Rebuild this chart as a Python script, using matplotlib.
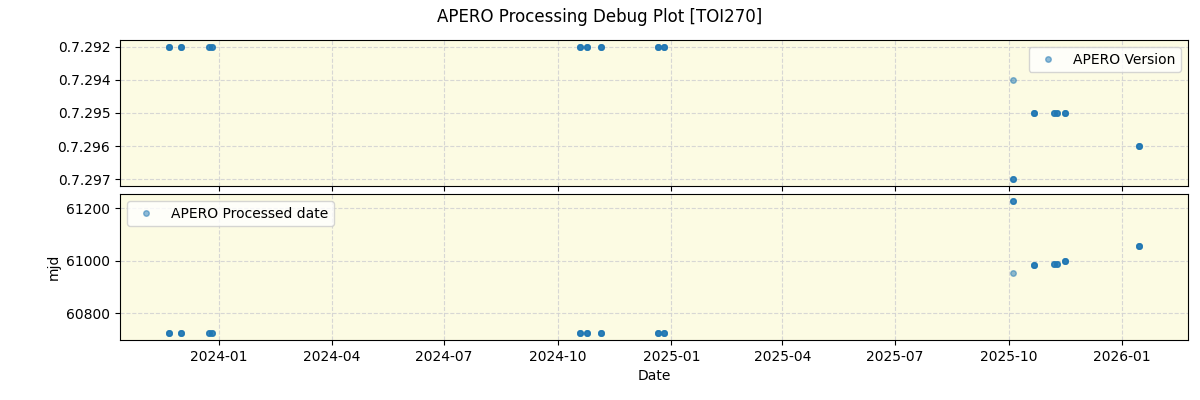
import numpy as np
import pandas as pd
import matplotlib
matplotlib.use("Agg")
import matplotlib.pyplot as plt
import matplotlib.dates as mdates

night_dates = ["2023-11-21", "2023-12-01", "2023-12-24", "2023-12-26",
               "2024-10-19", "2024-10-25", "2024-11-05", "2024-12-21", "2024-12-26",
               "2025-10-05", "2025-10-05", "2025-10-22", "2025-11-07", "2025-11-09",
               "2025-11-16", "2026-01-15"]
night_versions = ["0.7.292"] * 9 + ["0.7.294", "0.7.297", "0.7.295", "0.7.295", "0.7.295", "0.7.295", "0.7.296"]
night_mjd = [60723] * 9 + [60953, 61229, 60984, 60987, 60987, 60999, 61056]
# number of exposures per night
night_count = [4, 4, 3, 3, 4, 4, 4, 4, 4, 1, 3, 4, 3, 3, 4, 4]

df = pd.DataFrame({
    "date": pd.to_datetime(np.repeat(night_dates, night_count)),
    "version": np.repeat(night_versions, night_count),
    "mjd": np.repeat(night_mjd, night_count),
})

fig, (ax1, ax2) = plt.subplots(2, 1, figsize=(12, 4), dpi=100, sharex=True)
fig.subplots_adjust(left=0.1, right=0.99, top=0.9, bottom=0.15, hspace=0.055)
fig.suptitle("APERO Processing Debug Plot [TOI270]", fontsize=12)

bg = "#fcfbe3"

# versions sorted so the category axis goes in order
dv = df.sort_values("version")
ax1.plot(dv["date"], dv["version"], "o", color="#1f77b4", alpha=0.5, markersize=4, label="APERO Version")
ax1.invert_yaxis()
ax1.legend(loc="upper right")

ax2.plot(df["date"], df["mjd"], "o", color="#1f77b4", alpha=0.5, markersize=4, label="APERO Processed date")
ax2.set_ylabel("mjd")
ax2.set_xlabel("Date")
ax2.legend(loc="upper left")

for ax in (ax1, ax2):
    ax.set_facecolor(bg)
    ax.grid(True, linestyle="--", color="lightgray", alpha=0.9)

ax2.xaxis.set_major_locator(mdates.MonthLocator(bymonth=[1, 4, 7, 10]))
ax2.xaxis.set_major_formatter(mdates.DateFormatter("%Y-%m"))

plt.savefig("out.png")
